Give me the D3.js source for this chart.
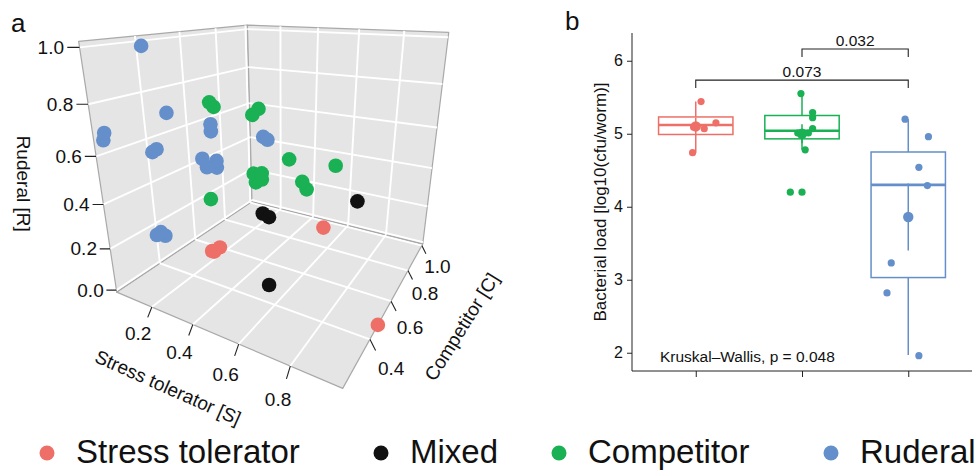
<!DOCTYPE html><html><head><meta charset="utf-8">
<script src="https://cdn.jsdelivr.net/npm/d3@7"></script>
<style>body{margin:0;background:#fff} text{font-family:"Liberation Sans",Arial,Helvetica,sans-serif;fill:#111}</style>
</head><body><svg id="chart" width="975" height="470"></svg>
<script>
// ---------------- DATA ----------------
const groups = ["Stress tolerator","Mixed","Competitor","Ruderal"];
const groupColors = ["#EE6F68","#111111","#19B153","#648FCA"];

// Panel a: CSR scores of each strain
const csrGroup = [
 "Ruderal","Ruderal","Ruderal","Ruderal","Ruderal","Ruderal","Ruderal","Ruderal","Ruderal","Ruderal","Ruderal","Ruderal","Ruderal","Ruderal","Ruderal","Ruderal","Ruderal",
 "Competitor","Competitor","Competitor","Competitor","Competitor","Competitor","Competitor","Competitor","Competitor","Competitor","Competitor","Competitor","Competitor",
 "Mixed","Mixed","Mixed","Mixed",
 "Stress tolerator","Stress tolerator","Stress tolerator","Stress tolerator","Stress tolerator"];
const csrS = [0.15,0.19,0.04,0.03,0.15,0.16,0.27,0.27,0.25,0.28,0.28,0.26,0.40,0.42,0.15,0.14,0.16,
 0.27,0.28,0.38,0.35,0.52,0.72,0.58,0.60,0.35,0.39,0.36,0.39,0.26,
 0.43,0.46,0.81,0.62,
 0.33,0.35,0.34,0.70,0.98];
const csrC = [0.31,0.35,0.22,0.22,0.31,0.32,0.47,0.47,0.44,0.48,0.48,0.45,0.61,0.61,0.31,0.30,0.32,
 0.47,0.48,0.61,0.61,0.61,0.61,0.61,0.61,0.61,0.61,0.61,0.61,0.46,
 0.56,0.56,0.62,0.34,
 0.38,0.40,0.38,0.57,0.47];
const csrR = [1.00,0.75,0.69,0.66,0.60,0.61,0.68,0.65,0.54,0.52,0.49,0.50,0.60,0.59,0.25,0.24,0.23,
 0.77,0.75,0.72,0.69,0.52,0.53,0.43,0.40,0.42,0.43,0.38,0.40,0.35,
 0.27,0.26,0.39,0.14,
 0.17,0.18,0.17,0.27,-0.01];
const sLimits = [0.01,0.98], cLimits = [0.20,1.015], rLimits = [-0.01,1.02];
const sTicks = [0.2,0.4,0.6,0.8], cTicks = [0.4,0.6,0.8,1.0], rTicks = [0,0.2,0.4,0.6,0.8,1.0];

// Panel b: bacterial load
const loadGroups = ["Stress tolerator","Competitor","Ruderal"];
const boxQ1 = [4.99,4.93,3.03], boxMedian = [5.12,5.04,4.30], boxQ3 = [5.23,5.25,4.75];
const whiskerLow = [4.74,4.78,1.97], whiskerHigh = [5.44,5.55,5.20];
const groupMean = [5.10,5.00,3.86], groupSE = [0.12,0.13,0.46];
const loadGroupOf = ["Stress tolerator","Stress tolerator","Stress tolerator","Stress tolerator","Stress tolerator",
 "Competitor","Competitor","Competitor","Competitor","Competitor","Competitor","Competitor","Competitor","Competitor",
 "Ruderal","Ruderal","Ruderal","Ruderal","Ruderal","Ruderal","Ruderal"];
const loadValue = [5.44,5.15,5.07,4.74,5.09, 5.55,5.29,5.22,5.07,5.01,4.78,4.20,4.20,5.01, 5.20,4.96,4.54,4.29,3.23,2.82,1.96];
const loadJitter = [0.05,0.19,0.08,-0.03,-0.02, -0.01,0.10,0.10,0.10,0.06,0.03,-0.11,0.00,-0.04, -0.03,0.19,0.10,0.18,-0.16,-0.20,0.10];
const loadTicks = [2,3,4,5,6];
const comparisons = [{a:"Stress tolerator",b:"Ruderal",y:5.735,p:"0.073"},{a:"Competitor",b:"Ruderal",y:6.16,p:"0.032"}];
const kwLabel = "Kruskal\u2013Wallis, p = 0.048";

// ---------------- DRAW ----------------
const svg = d3.select("#chart");
const color = d3.scaleOrdinal().domain(groups).range(groupColors);

// ===== Panel a: 3D scatter with a perspective camera =====
const camera = [[142.048,245.722,-52.7925,116.742],[1.16184,-2.22393,-258.387,292.098],[-0.244914,0.438325,-0.186794,1]];
const sx = d3.scaleLinear().domain(sLimits).range([0,1]);
const cy = d3.scaleLinear().domain(cLimits).range([0,1]);
const rz = d3.scaleLinear().domain(rLimits).range([0,1]);
function project(x,y,z){
  const w = camera[2][0]*x+camera[2][1]*y+camera[2][2]*z+camera[2][3];
  return [(camera[0][0]*x+camera[0][1]*y+camera[0][2]*z+camera[0][3])/w,
          (camera[1][0]*x+camera[1][1]*y+camera[1][2]*z+camera[1][3])/w, w];
}
const ga = svg.append("g");
const poly = pts => pts.map(p=>project(...p).slice(0,2).join(",")).join(" ");
const panels = [
  [[0,0,0],[1,0,0],[1,1,0],[0,1,0]],
  [[0,0,0],[0,1,0],[0,1,1],[0,0,1]],
  [[0,1,0],[1,1,0],[1,1,1],[0,1,1]]];
ga.selectAll("polygon").data(panels).join("polygon")
  .attr("points",poly).attr("fill","#e5e5e5").attr("stroke","#a9a9a9").attr("stroke-width",1.2).attr("stroke-linejoin","round");
const grid = [];
sTicks.forEach(s=>{grid.push([[sx(s),0,0],[sx(s),1,0]]);grid.push([[sx(s),1,0],[sx(s),1,1]]);});
cTicks.forEach(c=>{grid.push([[0,cy(c),0],[1,cy(c),0]]);grid.push([[0,cy(c),0],[0,cy(c),1]]);});
rTicks.forEach(r=>{grid.push([[0,0,rz(r)],[0,1,rz(r)]]);grid.push([[0,1,rz(r)],[1,1,rz(r)]]);});
const seg = (g)=>g.each(function(d){const a=project(...d[0]),b=project(...d[1]);d3.select(this).attr("x1",a[0]).attr("y1",a[1]).attr("x2",b[0]).attr("y2",b[1]);});
ga.append("g").selectAll("line").data(grid).join("line").call(seg).attr("stroke","#fff").attr("stroke-width",1.9);

// points (far first)
const pts3 = csrGroup.map((g,i)=>{const p=project(sx(csrS[i]),cy(csrC[i]),rz(csrR[i]));return {g,x:p[0],y:p[1],w:p[2]};})
  .sort((a,b)=>b.w-a.w);
ga.append("g").selectAll("circle").data(pts3).join("circle")
  .attr("cx",d=>d.x).attr("cy",d=>d.y).attr("r",7.3).attr("fill",d=>color(d.g));

// ticks
const tickLines = [], tickLabels = [];
rTicks.forEach(r=>{tickLines.push([[0,0,rz(r)],[-0.036,-0.02,rz(r)]]);tickLabels.push({p:project(-0.046,-0.025,rz(r)),t:r.toFixed(1),a:"end"});});
sTicks.forEach(s=>{tickLines.push([[sx(s),0,0],[sx(s),-0.026,-0.031]]);tickLabels.push({p:project(sx(s),-0.08,-0.067),t:s.toFixed(1),a:"middle"});});
cTicks.forEach(c=>{tickLines.push([[1,cy(c),0],[1.024,cy(c),-0.039]]);tickLabels.push({p:project(1.085,cy(c),-0.093),t:c.toFixed(1),a:"middle"});});
ga.append("g").selectAll("line").data(tickLines).join("line").call(seg).attr("stroke","#222").attr("stroke-width",1.1);
ga.append("g").selectAll("text").data(tickLabels).join("text")
  .attr("x",d=>d.p[0]).attr("y",d=>d.p[1]).attr("text-anchor",d=>d.a).attr("dominant-baseline","central")
  .attr("font-size",19).text(d=>d.t);
// axis titles
const rMid = project(0,0,0.5), sMid = project(0.5,0,0), cMid = project(1,0.5,0);
ga.append("text").attr("transform",`translate(${rMid[0]-76},${rMid[1]+4}) rotate(90)`).attr("text-anchor","middle").attr("dominant-baseline","central").attr("font-size",19).text("Ruderal [R]");
ga.append("text").attr("transform",`translate(${sMid[0]-46},${sMid[1]+54}) rotate(24)`).attr("text-anchor","middle").attr("dominant-baseline","central").attr("font-size",19).text("Stress tolerator [S]");
ga.append("text").attr("transform",`translate(${cMid[0]+70},${cMid[1]+27}) rotate(-58)`).attr("text-anchor","middle").attr("dominant-baseline","central").attr("font-size",19).text("Competitor [C]");
svg.append("text").attr("x",11).attr("y",32).attr("font-size",26).text("a");

// ===== Panel b: boxplots =====
const gb = svg.append("g");
const x = d3.scalePoint().domain(loadGroups).range([632,972]).padding(0.6);
const y = d3.scaleLinear().domain([1.75,6.38]).range([371,33]);
const boxW = x.step()*0.7;
const lcol = i=>color(loadGroups[i]);
gb.append("g").attr("transform","translate(632,0)").call(d3.axisLeft(y).tickValues(loadTicks).tickSize(5).tickPadding(4).tickFormat(d3.format("d")))
  .call(g=>{g.select(".domain").attr("stroke","#222").attr("d","M0,33V371");g.selectAll(".tick line").attr("stroke","#222");g.selectAll("text").attr("font-size",16).attr("font-family",null).attr("fill","#222");});
gb.append("g").attr("transform","translate(0,371)").call(d3.axisBottom(x).tickSize(6).tickFormat(""))
  .call(g=>{g.select(".domain").attr("stroke","#222").attr("d","M632,0H972");g.selectAll(".tick line").attr("stroke","#222");});
loadGroups.forEach((gname,i)=>{
  const cx = x(gname), c = lcol(i);
  gb.append("line").attr("x1",cx).attr("x2",cx).attr("y1",y(whiskerHigh[i])).attr("y2",y(boxQ3[i])).attr("stroke",c).attr("stroke-width",1.5);
  gb.append("line").attr("x1",cx).attr("x2",cx).attr("y1",y(boxQ1[i])).attr("y2",y(whiskerLow[i])).attr("stroke",c).attr("stroke-width",1.5);
  gb.append("rect").attr("x",cx-boxW/2).attr("width",boxW).attr("y",y(boxQ3[i])).attr("height",y(boxQ1[i])-y(boxQ3[i]))
    .attr("fill","#fff").attr("stroke",c).attr("stroke-width",1.5);
  gb.append("line").attr("x1",cx-boxW/2).attr("x2",cx+boxW/2).attr("y1",y(boxMedian[i])).attr("y2",y(boxMedian[i])).attr("stroke",c).attr("stroke-width",2.6);
});
gb.append("g").selectAll("circle").data(loadValue).join("circle")
  .attr("cx",(d,i)=>x(loadGroupOf[i])+loadJitter[i]*x.step()).attr("cy",d=>y(d)).attr("r",3.6)
  .attr("fill",(d,i)=>color(loadGroupOf[i]));
loadGroups.forEach((gname,i)=>{
  const cx = x(gname), c = lcol(i);
  gb.append("line").attr("x1",cx).attr("x2",cx).attr("y1",y(groupMean[i]+groupSE[i])).attr("y2",y(groupMean[i]-groupSE[i])).attr("stroke",c).attr("stroke-width",1.5);
  gb.append("circle").attr("cx",cx).attr("cy",y(groupMean[i])).attr("r",5.2).attr("fill",c);
});
comparisons.forEach(cmp=>{
  const x1=x(cmp.a), x2=x(cmp.b), yy=y(cmp.y);
  gb.append("path").attr("d",`M${x1},${yy+8}V${yy}H${x2}V${yy+8}`).attr("fill","none").attr("stroke","#222").attr("stroke-width",1.1);
  gb.append("text").attr("x",(x1+x2)/2).attr("y",yy-3).attr("text-anchor","middle").attr("font-size",15.5).text(cmp.p);
});
gb.append("text").attr("x",660).attr("y",y(2)+9).attr("font-size",15.5).text(kwLabel);
gb.append("text").attr("transform",`translate(606,${(y(1.75)+y(6.38))/2}) rotate(-90)`).attr("text-anchor","middle").attr("font-size",17).text("Bacterial load [log10(cfu/worm)]");
svg.append("text").attr("x",565).attr("y",30).attr("font-size",26).text("b");

// ===== Legend =====
const legendX = [47,381,559,831];
const lg = svg.append("g");
groups.forEach((gname,i)=>{
  lg.append("circle").attr("cx",legendX[i]).attr("cy",453).attr("r",7.5).attr("fill",color(gname));
  lg.append("text").attr("x",legendX[i]+29).attr("y",463).attr("font-size",33).text(gname);
});
</script></body></html>
